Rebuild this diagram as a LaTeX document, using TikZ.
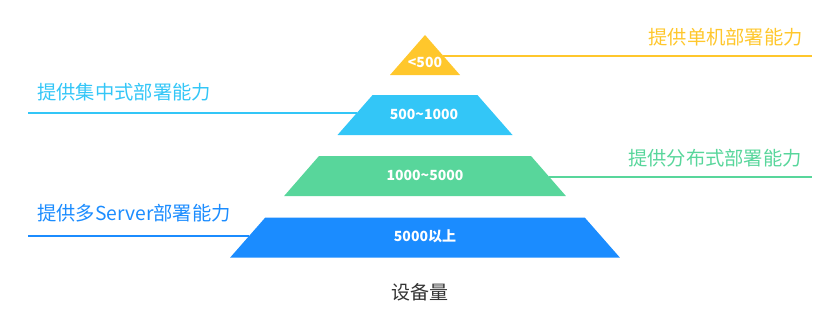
\documentclass[tikz,border=0pt]{standalone}
\usepackage{fontspec}
\newfontfamily\cjk{Noto Sans CJK SC}
\definecolor{cYellow}{HTML}{FFC72C}
\definecolor{cCyan}{HTML}{33C6F7}
\definecolor{cGreen}{HTML}{58D69B}
\definecolor{cBlue}{HTML}{1B8CFF}
\definecolor{cText}{HTML}{333333}
\begin{document}
\begin{tikzpicture}[x=1pt,y=-1pt,
  inlabel/.style={text=white,font=\cjk\bfseries\fontsize{14}{16}\selectfont,inner sep=0pt},
  sidelabel/.style={font=\cjk\fontsize{19.3}{22}\selectfont,inner sep=0pt},
  leader/.style={line width=1.8pt}]
\useasboundingbox (0,0) rectangle (829,313);
% slope: half width = (y-35)*0.875, centre x=425
\fill[cYellow] (425,35) -- (460,75) -- (390,75) -- cycle;
\fill[cCyan] (372.6,95) -- (477.4,95) -- (512.5,135) -- (337.5,135) -- cycle;
\fill[cGreen] (319.0,156) -- (531.0,156) -- (565.9,196) -- (284.1,196) -- cycle;
\fill[cBlue] (265.3,217.5) -- (584.7,217.5) -- (619.8,257.5) -- (230.2,257.5) -- cycle;
% inner labels
\node[inlabel] (t1) at (425,62) {<500};
\node[inlabel] (t2) at (424,114) {500\textasciitilde1000};
\node[inlabel] (t3) at (425,175) {1000\textasciitilde5000};
\node[inlabel] (t4) at (425,236) {5000以上};
% leader end points
\coordinate (e1a) at (443,56);
\coordinate (e1b) at (812,56);
\coordinate (e2a) at (357,113);
\coordinate (e2b) at (28,113);
\coordinate (e3a) at (549,177);
\coordinate (e3b) at (812,177);
\coordinate (e4a) at (249,236);
\coordinate (e4b) at (28,236);
\draw[leader,cYellow] (e1a) -- (e1b);
\draw[leader,cCyan] (e2a) -- (e2b);
\draw[leader,cGreen] (e3a) -- (e3b);
\draw[leader,cBlue] (e4a) -- (e4b);
% side labels
\node[sidelabel,text=cYellow,anchor=east] (s1) at (803,37) {提供单机部署能力};
\node[sidelabel,text=cCyan,anchor=west] (s2) at (37,92) {提供集中式部署能力};
\node[sidelabel,text=cGreen,anchor=east] (s3) at (802,158) {提供分布式部署能力};
\node[sidelabel,text=cBlue,anchor=west] (s4) at (37,213) {提供多Server部署能力};
\node[font=\cjk\fontsize{19}{22}\selectfont,text=cText,inner sep=0pt] (axis) at (420,292) {设备量};
\end{tikzpicture}
\end{document}
